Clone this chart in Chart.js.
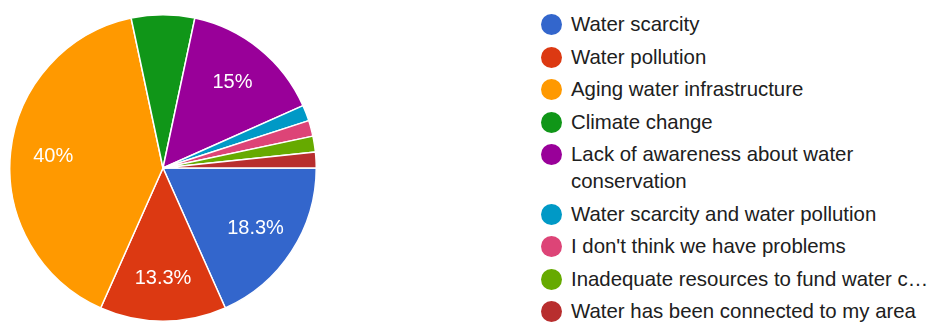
<!DOCTYPE html>
<html>
<head>
<meta charset="utf-8">
<script src="https://cdn.jsdelivr.net/npm/chart.js@4/dist/chart.umd.min.js"></script>
<style>
  html, body { margin: 0; padding: 0; background: #fff; }
  body { width: 929px; height: 322px; position: relative; overflow: hidden; font-family: "Liberation Sans", Arial, sans-serif; }
  #pieWrap { position: absolute; left: 9px; top: 14px; width: 308px; height: 308px; }
  #legend { position: absolute; left: 541px; top: 11px; width: 388px; margin: 0; padding: 0; list-style: none; }
  #legend li { position: relative; padding-left: 30px; font-size: 20.4px; line-height: 27px; margin-bottom: 5.5px; color: #202020; width: 358px; }
  #legend li span.dot { position: absolute; left: 0; top: 3px; width: 21px; height: 21px; border-radius: 50%; }
</style>
</head>
<body>
<div id="pieWrap"><canvas id="c"></canvas></div>
<ul id="legend"></ul>
<script>
const categories = [
  "Water scarcity",
  "Water pollution",
  "Aging water infrastructure",
  "Climate change",
  "Lack of awareness about water conservation",
  "Water scarcity and water pollution",
  "I don't think we have problems",
  "Inadequate resources to fund water c\u2026",
  "Water has been connected to my area"
];
const responses = [11, 8, 24, 4, 9, 1, 1, 1, 1];
const colors = ["#3366cc", "#dc3912", "#ff9900", "#109618", "#990099", "#0099c6", "#dd4477", "#66aa00", "#b82e2e"];

const total = responses.reduce((a, b) => a + b, 0);
function pct(v) {
  const p = v / total * 100;
  let s = p.toFixed(1);
  if (s.endsWith(".0")) s = s.slice(0, -2);
  return s + "%";
}

const sliceLabels = {
  id: "sliceLabels",
  afterDatasetsDraw(chart) {
    const ctx = chart.ctx;
    const meta = chart.getDatasetMeta(0);
    ctx.save();
    ctx.fillStyle = "#ffffff";
    ctx.font = "20px 'Liberation Sans', Arial, sans-serif";
    ctx.textAlign = "center";
    ctx.textBaseline = "middle";
    meta.data.forEach((arc, i) => {
      const v = responses[i];
      if (v / total < 0.1) return;
      const p = arc.getProps(["x", "y", "startAngle", "endAngle", "outerRadius"], true);
      const mid = (p.startAngle + p.endAngle) / 2;
      const r = p.outerRadius * 0.72;
      ctx.fillText(pct(v), p.x + Math.cos(mid) * r, p.y + Math.sin(mid) * r);
    });
    ctx.restore();
  }
};

new Chart(document.getElementById("c"), {
  type: "pie",
  data: {
    labels: categories,
    datasets: [{
      data: responses,
      backgroundColor: colors,
      borderColor: "#ffffff",
      borderWidth: 1.5
    }]
  },
  options: {
    responsive: true,
    maintainAspectRatio: false,
    animation: false,
    rotation: 90,
    layout: { padding: 0 },
    plugins: {
      legend: { display: false },
      tooltip: { enabled: false }
    }
  },
  plugins: [sliceLabels]
});

const legend = document.getElementById("legend");
categories.forEach((c, i) => {
  const li = document.createElement("li");
  const dot = document.createElement("span");
  dot.className = "dot";
  dot.style.background = colors[i];
  li.appendChild(dot);
  li.appendChild(document.createTextNode(c));
  legend.appendChild(li);
});
</script>
</body>
</html>
